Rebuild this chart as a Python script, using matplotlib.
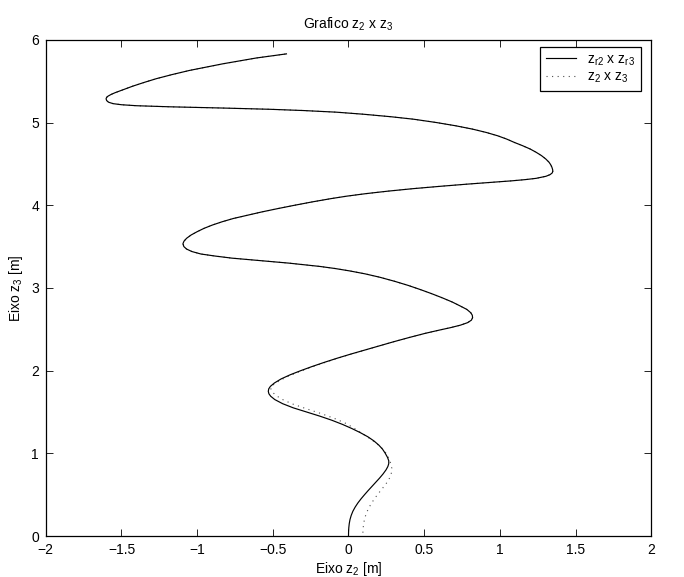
import numpy as np
import matplotlib
matplotlib.use("Agg")
import matplotlib.pyplot as plt

plt.rcParams["font.family"] = ["Liberation Sans", "DejaVu Sans"]
plt.rcParams["mathtext.fontset"] = "custom"
plt.rcParams["mathtext.rm"] = "Liberation Sans"
plt.rcParams["mathtext.it"] = "Liberation Sans:italic"
plt.rcParams["mathtext.default"] = "rm"

# Reference trajectory: z_r3 (vertical) and z_r2 (horizontal)
zr3 = [0.00, 0.05, 0.10, 0.15, 0.20, 0.25, 0.30, 0.35, 0.40, 0.45,
       0.50, 0.55, 0.60, 0.65, 0.70, 0.75, 0.80, 0.84, 0.875,
       0.91, 0.95, 1.00, 1.05, 1.10, 1.15, 1.20, 1.25, 1.30, 1.35,
       1.40, 1.45, 1.50, 1.55, 1.60, 1.65, 1.69, 1.72, 1.75,
       1.78, 1.81, 1.85, 1.90, 1.95, 2.00, 2.05, 2.10, 2.15, 2.20,
       2.25, 2.30, 2.35, 2.40, 2.45, 2.49, 2.52, 2.55, 2.58, 2.61, 2.64,
       2.67, 2.70, 2.74, 2.78, 2.83, 2.88, 2.93, 2.98, 3.03, 3.08,
       3.13, 3.17, 3.205, 3.235, 3.26, 3.28, 3.30, 3.32, 3.34, 3.36,
       3.385, 3.41, 3.44, 3.47, 3.50, 3.535,
       3.565, 3.60, 3.64, 3.68, 3.72, 3.76, 3.80, 3.84, 3.88, 3.92,
       3.96, 4.00, 4.04, 4.08, 4.11, 4.14, 4.17, 4.20, 4.23, 4.255,
       4.275, 4.295, 4.31, 4.325, 4.35, 4.37, 4.39, 4.41,
       4.43, 4.46, 4.49, 4.52, 4.56, 4.60, 4.64, 4.68, 4.72, 4.76, 4.80,
       4.84, 4.88, 4.92, 4.96, 5.00, 5.04, 5.07, 5.10, 5.125, 5.145,
       5.16, 5.175, 5.19, 5.203, 5.215, 5.228, 5.245, 5.265, 5.287,
       5.305, 5.32, 5.34, 5.36, 5.40, 5.44, 5.485, 5.53, 5.58, 5.63, 5.67, 5.71,
       5.745, 5.78, 5.805, 5.83]
zr2 = [0.000, 0.0005, 0.002, 0.005, 0.010, 0.018, 0.029, 0.044, 0.062, 0.083,
       0.106, 0.130, 0.155, 0.180, 0.205, 0.228, 0.248, 0.260, 0.266,
       0.266, 0.258, 0.243, 0.225, 0.200, 0.168, 0.128, 0.078, 0.022, -0.040,
       -0.110, -0.190, -0.278, -0.365, -0.435, -0.487, -0.514, -0.526, -0.530,
       -0.527, -0.516, -0.490, -0.445, -0.385, -0.315, -0.240, -0.160, -0.075, 0.015,
       0.110, 0.205, 0.300, 0.400, 0.505, 0.600, 0.675, 0.740, 0.787, 0.812, 0.820,
       0.818, 0.808, 0.782, 0.740, 0.685, 0.620, 0.550, 0.475, 0.395, 0.305,
       0.205, 0.110, 0.010, -0.090, -0.190, -0.290, -0.395, -0.520, -0.650, -0.770,
       -0.880, -0.975, -1.035, -1.070, -1.088, -1.094,
       -1.087, -1.070, -1.040, -1.000, -0.955, -0.900, -0.835, -0.760, -0.665, -0.570,
       -0.465, -0.355, -0.240, -0.115, -0.010, 0.115, 0.260, 0.425, 0.615, 0.785,
       0.935, 1.080, 1.170, 1.240, 1.305, 1.332, 1.346, 1.350,
       1.349, 1.344, 1.336, 1.325, 1.303, 1.275, 1.240, 1.200, 1.150, 1.095, 1.045,
       0.985, 0.910, 0.820, 0.710, 0.580, 0.430, 0.280, 0.100, -0.080, -0.300,
       -0.520, -0.830, -1.180, -1.400, -1.500, -1.555, -1.585, -1.598, -1.602,
       -1.598, -1.588, -1.568, -1.543, -1.485, -1.425, -1.350, -1.270, -1.165, -1.050, -0.940, -0.830,
       -0.720, -0.610, -0.510, -0.410]

# Actual trajectory (z_3, z_2) until it merges with the reference one
z3_start = [0.04, 0.10, 0.16, 0.22, 0.28, 0.34, 0.40, 0.46, 0.52, 0.58,
            0.64, 0.70, 0.76, 0.82, 0.88, 0.94, 1.00, 1.06, 1.12, 1.18,
            1.24, 1.30, 1.36, 1.42, 1.48, 1.54, 1.60, 1.65, 1.70, 1.745,
            1.79, 1.83, 1.88, 1.93, 1.98, 2.03, 2.08, 2.13, 2.18, 2.23, 2.28]
z2_start = [0.095, 0.097, 0.101, 0.108, 0.119, 0.134, 0.153, 0.175, 0.200, 0.226,
            0.251, 0.271, 0.283, 0.286, 0.279, 0.266, 0.250, 0.222, 0.185, 0.140,
            0.090, 0.040, -0.015, -0.090, -0.180, -0.280, -0.375, -0.435, -0.480, -0.505,
            -0.515, -0.495, -0.455, -0.400, -0.335, -0.262, -0.185, -0.105, -0.018, 0.074, 0.168]
merge_height = 2.30

x_ticks = [-2, -1.5, -1, -0.5, 0, 0.5, 1, 1.5, 2]
x_tick_labels = ["\u22122", "\u22121.5", "\u22121", "\u22120.5", "0", "0.5", "1", "1.5", "2"]
y_ticks = [0, 1, 2, 3, 4, 5, 6]
y_tick_labels = ["0", "1", "2", "3", "4", "5", "6"]

k = int(np.searchsorted(zr3, merge_height))
z2 = np.concatenate([z2_start, zr2[k:]])
z3 = np.concatenate([z3_start, zr3[k:]])

fig = plt.figure(figsize=(6.84, 5.77), dpi=100)
ax = fig.add_axes([0.067, 0.071, 0.885, 0.860])

ax.plot(zr2, zr3, color="black", lw=0.85, label=r"z$_{\mathrm{r2}}$ x z$_{\mathrm{r3}}$",
        zorder=3, solid_joinstyle="round")
ax.plot(z2, z3, color="0.3", lw=0.8, linestyle=(0, (1, 4)),
        label=r"z$_2$ x z$_3$", zorder=2)

ax.set_xlim(-2, 2)
ax.set_ylim(0, 6)
ax.set_xticks(x_ticks)
ax.set_xticklabels(x_tick_labels)
ax.set_yticks(y_ticks)
ax.set_yticklabels(y_tick_labels)
ax.tick_params(direction="in", top=True, right=True, length=5, width=0.6,
               labelsize=10, pad=5, colors="black")
for s in ax.spines.values():
    s.set_linewidth(0.9)
    s.set_color("black")

ax.set_title(r"Grafico z$_2$ x z$_3$", fontsize=10, pad=8)
ax.set_xlabel(r"Eixo z$_2$ [m]", fontsize=10, labelpad=2)
ax.set_ylabel(r"Eixo z$_3$ [m]", fontsize=10, labelpad=4)

leg = ax.legend(loc="upper right", bbox_to_anchor=(0.983, 0.986), fontsize=10,
                frameon=True, fancybox=False, edgecolor="black", framealpha=1,
                handlelength=2.2, handletextpad=0.8, borderpad=0.4,
                labelspacing=0.15, borderaxespad=0)
leg.get_frame().set_linewidth(0.9)

fig.savefig("out.png", dpi=100)
